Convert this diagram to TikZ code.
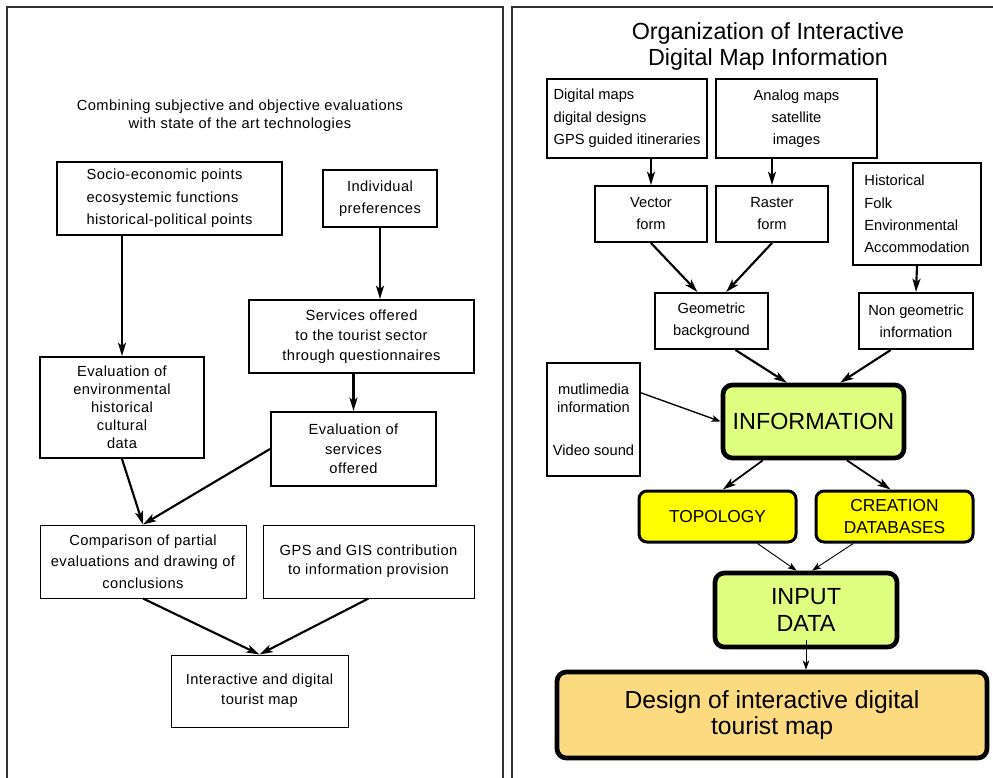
\documentclass[tikz,border=0pt]{standalone}
\usepackage{fontspec}
\setmainfont{Liberation Sans}
\usepackage{tikz}
\usetikzlibrary{arrows.meta}

\newcommand{\pxl}{0.75pt}
\definecolor{infogreen}{HTML}{DFFF80}
\definecolor{topoyellow}{HTML}{FFFF00}
\definecolor{mapbeige}{HTML}{FCDA80}

\begin{document}
\begin{tikzpicture}[x=0.75pt, y=-0.75pt,
        frame/.style={draw=black!80, line width=0.9pt},
        sz/.style 2 args={minimum width=#1*\pxl, minimum height=#2*\pxl},
        txt/.style={font=\fontsize{11}{#1}\selectfont},
        ltxt/.style={font=\fontsize{11}{#1}\selectfont\addfontfeature{LetterSpace=3}},
        box/.style={draw, line width=1.5pt, align=center, inner sep=0pt},
        thinbox/.style={box, line width=0.75pt},
        bigbox/.style={box, line width=3.5pt, rounded corners=7pt},
        arr/.style={line width=1.6pt, -{Stealth[length=10pt,width=6pt,inset=2.5pt]}},
        thinarr/.style={line width=0.7pt, -{Stealth[length=7pt,width=5pt,inset=2pt]}}]
        %\draw[step=50,gray,very thin] (0,0) grid (993,778);
        \useasboundingbox (0,0) rectangle (993,778);
        \clip (0,0) rectangle (993,778);

        % Left panel.
        \draw[frame] (7,7) rectangle (503,800);
        \node[ltxt=13.5, align=center] (ltitle) at (240,116) {Combining subjective and objective evaluations\\with state of the art technologies};

        %socio, indiv
        \node[box, sz={225}{73}, ltxt=17, align=left] (socio) at (169.5,198.5) {Socio-economic points\\ecosystemic functions\\historical-political points};
        \node[box, sz={114}{57}, ltxt=16.5] (indiv) at (380,198.5) {Individual\\preferences};

        %serv, evenv, evserv
        \node[box, sz={225}{73}, ltxt=15] (serv) at (361.5,336.5) {Services offered\\to the tourist sector\\through questionnaires};
        \node[box, sz={164}{101}, ltxt=13.5] (evenv) at (122,407.5) {Evaluation of\\environmental\\historical\\cultural\\data};
        \node[box, sz={165}{74}, ltxt=14.6] (evserv) at (353.5,449) {Evaluation of\\services\\offered};

        %comp, gps, tmap
        \node[thinbox, sz={206}{73}, ltxt=16] (comp) at (143,561.5) {Comparison of partial\\evaluations and drawing of\\conclusions};
        \node[thinbox, sz={211}{73}, ltxt=14] (gps) at (368.5,561.5) {GPS and GIS contribution\\to information provision};
        \node[thinbox, sz={177}{72}, ltxt=15] (tmap) at (259.5,691) {Interactive and digital\\tourist map};

        \draw[arr] (evenv.north |- socio.south) -- (evenv.north);
        \draw[arr] (indiv.south) -- (indiv |- serv.north);
        \draw[arr] (evserv |- serv.south) -- (evserv.north);
        \draw[arr] (evenv.south) -- (comp.north);
        \draw[arr] (evserv.west) -- (comp.north);
        \draw[arr] (comp.south) -- (tmap.north);
        \draw[arr] (gps.south) -- (tmap.north);

        % Right panel.
        \draw[frame] (512,7) rectangle (1010,800);
        \node[font=\fontsize{17.5}{19.5}\selectfont, align=center] (rtitle) at (768,46) {Organization of Interactive\\Digital Map Information};

        %dig, ana
        \node[box, line width=2pt, sz={160}{79}, txt=17, align=left] (dig) at (627,118.5) {Digital maps\\digital designs\\GPS guided itineraries};
        \node[box, line width=2pt, sz={161}{79}, txt=16.5] (ana) at (796.5,118.5) {Analog maps\\satellite\\images};

        %vec, ras, hist
        \node[box, sz={112}{56}, txt=16.5] (vec) at (651,214) {Vector\\form};
        \node[box, sz={112}{56}, txt=16.5] (ras) at (772,214) {Raster\\form};
        \node[box, sz={128}{102}, txt=16.75, align=left] (hist) at (917,214) {Historical\\Folk\\Environmental\\Accommodation};

        %geo, ngeo, mult
        \node[box, sz={113}{56}, txt=16.5] (geo) at (711.5,321) {Geometric\\background};
        \node[box, sz={114}{56}, txt=16.5] (ngeo) at (916,321) {Non geometric\\information};
        \node[box, sz={93}{113}, txt=13.5] (mult) at (593.5,419.5) {mutlimedia\\information\\[18.75pt]Video sound};

        %info, topo, crea
        \node[bigbox, sz={181}{73}, fill=infogreen, font=\fontsize{17.5}{20}\selectfont] (info) at (813.5,421.5) {INFORMATION};
        \node[box, line width=2.25pt, rounded corners=6pt, sz={157}{51}, fill=topoyellow, font=\fontsize{13}{16.5}\selectfont] (topo) at (717.5,516.5) {TOPOLOGY};
        \node[box, line width=2.25pt, rounded corners=6pt, sz={157}{51}, fill=topoyellow, font=\fontsize{13}{16.5}\selectfont] (crea) at (894.5,516.5) {CREATION\\DATABASES};

        %inp, des
        \node[bigbox, sz={182}{74}, fill=infogreen, font=\fontsize{17.5}{20}\selectfont] (inp) at (806,610) {INPUT\\DATA};
        \node[bigbox, sz={430}{86}, fill=mapbeige, font=\fontsize{18.5}{20}\selectfont] (des) at (772,715) {Design of interactive digital\\tourist map};

        \draw[arr] (vec |- dig.south) -- (vec.north);
        \draw[arr] (ras |- ana.south) -- (ras.north);
        \draw[arr] (hist.south) -- (ngeo.north);
        \draw[arr] (vec.south) -- ([xshift=-10.5pt]geo.north);
        \draw[arr] (ras.south) -- ([xshift=11pt]geo.north);
        \draw[arr] ([xshift=18pt]geo.south) -- ([xshift=-20pt]info.north);
        \draw[arr] ([xshift=-19pt]ngeo.south) -- ([xshift=20pt]info.north);
        \draw[thinarr, line width=1pt] ([yshift=20pt]mult.east) -- (info.west);
        \draw[arr, line width=1.3pt] ([xshift=-38pt]info.south) -- ([xshift=4pt]topo.north);
        \draw[arr, line width=1.3pt] ([xshift=25pt]info.south) -- ([xshift=-3pt]crea.north);
        \draw[thinarr] ([xshift=30pt]topo.south) -- ([xshift=-7pt]inp.north);
        \draw[thinarr] ([xshift=-31pt]crea.south) -- ([xshift=4.5pt]inp.north);
        \draw[thinarr] ([yshift=7pt]inp.south) -- (inp.south |- des.north);

    \end{tikzpicture}
\end{document}
